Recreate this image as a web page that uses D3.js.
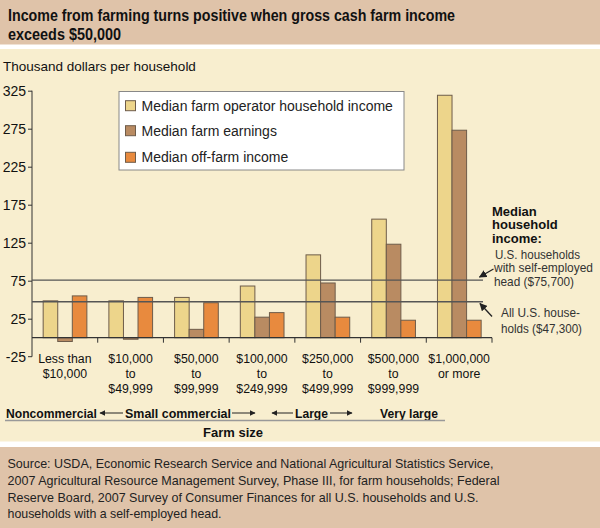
<!DOCTYPE html>
<html><head><meta charset="utf-8">
<script src="https://cdn.jsdelivr.net/npm/d3@7"></script>
<style>
html,body{margin:0;padding:0;background:#fff;}
svg{display:block;font-family:"Liberation Sans",Arial,Helvetica,sans-serif;}
</style></head>
<body><svg id="c" width="600" height="528"></svg>
<script>
// ---- data ----
const categories = ["Less than $10,000","$10,000 to $49,999","$50,000 to $99,999","$100,000 to $249,999","$250,000 to $499,999","$500,000 to $999,999","$1,000,000 or more"];
const categoryLines = [["Less than","$10,000"],["$10,000","to","$49,999"],["$50,000","to","$99,999"],["$100,000","to","$249,999"],["$250,000","to","$499,999"],["$500,000","to","$999,999"],["$1,000,000","or more"]];
const seriesNames = ["Median farm operator household income","Median farm earnings","Median off-farm income"];
const operatorIncome = [48.5, 48.5, 53, 68, 109, 156, 319];
const farmEarnings = [-5, -2, 11, 27, 72, 123, 273];
const offFarmIncome = [55, 53, 46, 33, 27, 23, 23];
const yTicks = [-25, 25, 75, 125, 175, 225, 275, 325];
const yTickLabels = ["-25", "25", "75", "125", "175", "225", "275", "325"];
const refValues = [75.7, 47.3];
const seriesColors = ["#edd58b", "#b98b62", "#e88a3e"];

const svg = d3.select("#c");
// backgrounds
svg.append("rect").attr("x",0).attr("y",0).attr("width",600).attr("height",44.5).attr("fill","#dfc3a9");
svg.append("rect").attr("x",0).attr("y",49).attr("width",600).attr("height",392.5).attr("fill","#f8eecf");
svg.append("rect").attr("x",0).attr("y",447).attr("width",600).attr("height",81).attr("fill","#dfc3a9");

function txt(x,y,s,opts={}){
  const t = svg.append("text").attr("x",x).attr("y",y).text(s)
    .attr("font-size",opts.size||12).attr("fill",opts.fill||"#111")
    .attr("font-weight",opts.bold?"bold":"normal")
    .attr("text-anchor",opts.anchor||"start");
  if(opts.len){t.attr("textLength",opts.len).attr("lengthAdjust","spacingAndGlyphs");}
  return t;
}
// title
txt(8,21,"Income from farming turns positive when gross cash farm income",{size:16.5,bold:true,len:447});
txt(8,40,"exceeds $50,000",{size:16.5,bold:true,len:113});
txt(3,70.5,"Thousand dollars per household",{size:13.5,fill:"#111"});

// scales
const y = d3.scaleLinear().domain([-25,325]).range([356.7,90.7]);
const x = d3.scaleBand().domain(categories).range([32,492]).padding(0);
const bw = x.bandwidth();
const xs = d3.scaleBand().domain(seriesNames).range([bw*0.17, bw*0.835]).padding(0);

const data = categories.map((c,i)=>({c, vals:[operatorIncome[i],farmEarnings[i],offFarmIncome[i]]}));

// y axis
const yAxis = svg.append("g").attr("transform","translate(32,0)")
  .call(d3.axisLeft(y).tickValues(yTicks).tickSize(4).tickPadding(2).tickFormat((d,i)=>yTickLabels[i]));
yAxis.select(".domain").attr("stroke","#333").attr("d","M0,"+y(325)+"V"+y(-25)+"H-4");
yAxis.selectAll(".tick line").attr("stroke","#333");
yAxis.selectAll(".tick text").attr("font-size",14).attr("fill","#111").attr("font-family","Liberation Sans, Arial, sans-serif");
yAxis.selectAll(".tick").filter(d=>d===-25).select("line").remove();

// bars
const g = svg.append("g");
data.forEach(d=>{
  d.vals.forEach((v,j)=>{
    g.append("rect")
      .attr("x", x(d.c)+xs(seriesNames[j]))
      .attr("width", xs.bandwidth())
      .attr("y", y(Math.max(0,v)))
      .attr("height", Math.abs(y(v)-y(0)))
      .attr("fill", seriesColors[j])
      .attr("stroke","#6e5c4a").attr("stroke-width",1);
  });
});

// x axis at zero
const xAxis = svg.append("g").attr("transform","translate(0,"+y(0)+")");
xAxis.append("line").attr("x1",32).attr("x2",492).attr("stroke","#333").attr("stroke-width",1.2);
categories.forEach(c=>{
  const xe = x(c)+bw;
  xAxis.append("line").attr("x1",xe).attr("x2",xe).attr("y1",0).attr("y2",5).attr("stroke","#333");
});
// category labels
categories.forEach((c,i)=>{
  const cx = x(c)+bw/2;
  categoryLines[i].forEach((s,k)=>{
    txt(cx,362.5+k*15,s,{size:12.3,anchor:"middle",fill:"#111"});
  });
});

// reference lines
refValues.forEach(v=>{
  svg.append("line").attr("x1",32).attr("x2",483).attr("y1",y(v)).attr("y2",y(v))
    .attr("stroke","#555").attr("stroke-width",1.3);
});

// legend
const lg = svg.append("g");
lg.append("rect").attr("x",119).attr("y",91.5).attr("width",285).attr("height",78.5).attr("fill","#fff").attr("stroke","#888");
const legY = [105.7,130.7,157.3];
seriesNames.forEach((s,j)=>{
  lg.append("rect").attr("x",125.5).attr("y",legY[j]-5).attr("width",10).attr("height",10)
    .attr("fill",seriesColors[j]).attr("stroke","#6e5c4a");
  txt(141.5,legY[j]+5,s,{size:14,fill:"#222"});
});

// arrow marker
const defs = svg.append("defs");
defs.append("marker").attr("id","ah").attr("viewBox","0 0 10 10").attr("refX",9).attr("refY",5)
  .attr("markerWidth",6).attr("markerHeight",6).attr("orient","auto-start-reverse")
  .append("path").attr("d","M0,0L10,5L0,10z").attr("fill","#222");

// annotations
txt(492,215.5,"Median",{size:13,bold:true});
txt(492,229,"household",{size:13,bold:true});
txt(492,242.5,"income:",{size:13,bold:true});
txt(495,258.5,"U.S. households",{size:12.2,fill:"#333",len:85});
txt(494,272,"with self-employed",{size:12.2,fill:"#333",len:99});
txt(494,286,"head ($75,700)",{size:12.2,fill:"#333",len:80});
txt(501,317,"All U.S. house-",{size:12.2,fill:"#333",len:79});
txt(501,332.5,"holds ($47,300)",{size:12.2,fill:"#333",len:81});
svg.append("line").attr("x1",493.5).attr("y1",269).attr("x2",479.5).attr("y2",277)
  .attr("stroke","#222").attr("stroke-width",1.3).attr("marker-end","url(#ah)");
svg.append("line").attr("x1",492).attr("y1",316.5).attr("x2",480).attr("y2",303.5)
  .attr("stroke","#222").attr("stroke-width",1.3).attr("marker-end","url(#ah)");

// farm size groups
txt(6,417.5,"Noncommercial",{size:13,bold:true,len:91});
txt(125,417.5,"Small commercial",{size:13,bold:true,len:106});
txt(295,417.5,"Large",{size:13,bold:true,len:33});
txt(380,417.5,"Very large",{size:13,bold:true,len:58});
[[123,100],[232,255],[293,272],[330,352]].forEach(([a,b])=>{
  svg.append("line").attr("x1",a).attr("x2",b).attr("y1",413).attr("y2",413)
    .attr("stroke","#222").attr("stroke-width",1).attr("marker-end","url(#ah)");
});
svg.append("line").attr("x1",5).attr("x2",445).attr("y1",420.5).attr("y2",420.5).attr("stroke","#999").attr("stroke-width",1.5);
txt(233,436.5,"Farm size",{size:13,bold:true,anchor:"middle"});

// source
const src = [
  ["Source: USDA, Economic Research Service and National Agricultural Statistics Service,",486],
  ["2007 Agricultural Resource Management Survey, Phase III, for farm households; Federal",492],
  ["Reserve Board, 2007 Survey of Consumer Finances for all U.S. households and U.S.",471],
  ["households with a self-employed head.",214]
];
src.forEach(([s,l],i)=>txt(7.5,468+i*16.8,s,{size:13,fill:"#222",len:l}));
</script></body></html>
